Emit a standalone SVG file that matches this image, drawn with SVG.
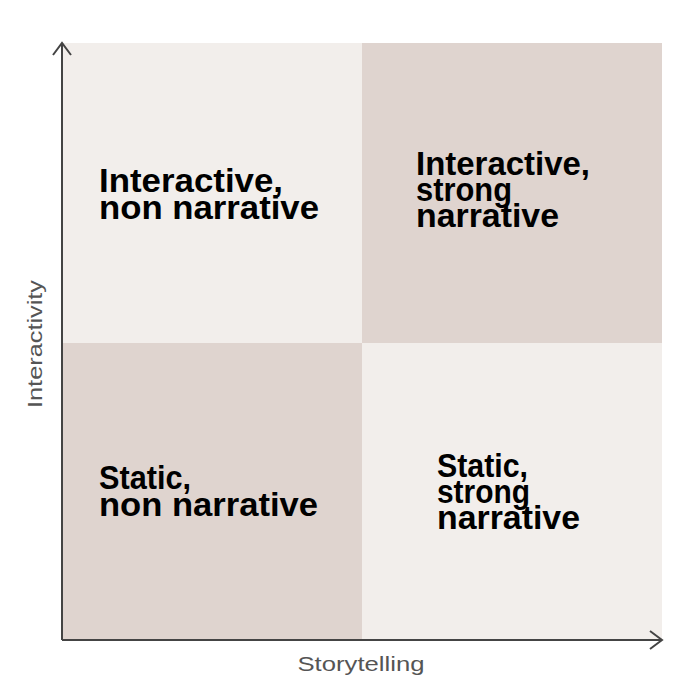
<svg xmlns="http://www.w3.org/2000/svg" width="688" height="696" viewBox="0 0 688 696">
<style>
.light{fill:#f2eeeb}
.dark{fill:#dfd4cf}
.q{font-family:"Liberation Sans",Arial,sans-serif;font-weight:bold;font-size:33px;fill:#000}
.ax{font-family:"Liberation Sans",Arial,sans-serif;font-size:21px;fill:#555}
.axis{stroke:#444;stroke-width:2;fill:none}
</style>
<rect width="688" height="696" fill="#fff"/>
<g id="q-tl"><rect class="light" x="62" y="43" width="300" height="300"/>
<text class="q"><tspan x="99" y="192" textLength="184" lengthAdjust="spacingAndGlyphs">Interactive,</tspan><tspan x="99" y="219" textLength="220" lengthAdjust="spacingAndGlyphs">non narrative</tspan></text></g>
<g id="q-tr"><rect class="dark" x="362" y="43" width="300" height="300"/>
<text class="q"><tspan x="416" y="175" textLength="174" lengthAdjust="spacingAndGlyphs">Interactive,</tspan><tspan x="416" y="201" textLength="96" lengthAdjust="spacingAndGlyphs">strong</tspan><tspan x="416" y="227" textLength="143" lengthAdjust="spacingAndGlyphs">narrative</tspan></text></g>
<g id="q-bl"><rect class="dark" x="62" y="343" width="300" height="297"/>
<text class="q"><tspan x="99" y="489" textLength="92" lengthAdjust="spacingAndGlyphs">Static,</tspan><tspan x="99" y="516" textLength="219" lengthAdjust="spacingAndGlyphs">non narrative</tspan></text></g>
<g id="q-br"><rect class="light" x="362" y="343" width="300" height="297"/>
<text class="q"><tspan x="437" y="477" textLength="91" lengthAdjust="spacingAndGlyphs">Static,</tspan><tspan x="437" y="503" textLength="93" lengthAdjust="spacingAndGlyphs">strong</tspan><tspan x="437" y="529" textLength="143" lengthAdjust="spacingAndGlyphs">narrative</tspan></text></g>
<g id="connectors">
<path class="axis" d="M62 640 V43 M53 55 L62 43 L71 55"/>
<path class="axis" d="M62 640 H662 M650 631 L662 640 L650 649"/>
</g>
<text class="ax" x="361" y="671" text-anchor="middle" textLength="127" lengthAdjust="spacingAndGlyphs">Storytelling</text>
<text class="ax" transform="translate(42 344) rotate(-90)" text-anchor="middle" textLength="128" lengthAdjust="spacingAndGlyphs">Interactivity</text>
</svg>
